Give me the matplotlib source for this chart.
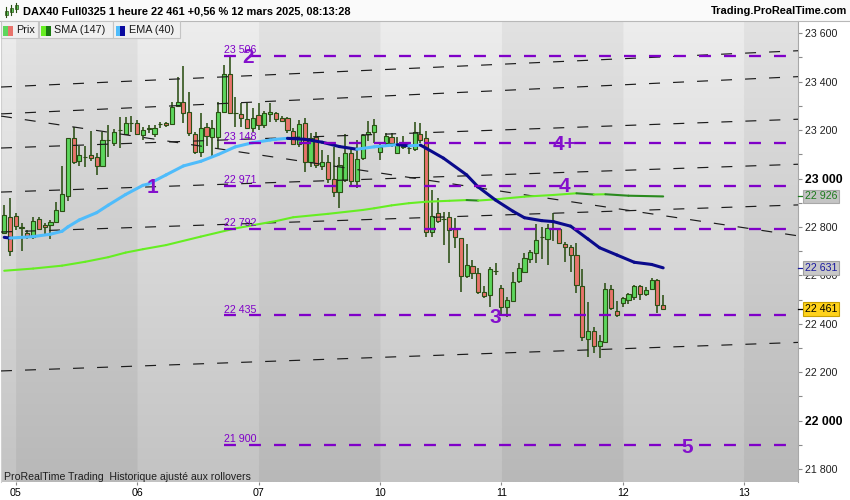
import matplotlib
matplotlib.use('Agg')
import matplotlib.pyplot as plt
import numpy as np
from matplotlib.patches import Rectangle
from matplotlib.collections import LineCollection
from matplotlib.transforms import blended_transform_factory
from matplotlib.lines import Line2D

plt.rcParams['font.family'] = ['Liberation Sans', 'DejaVu Sans']
plt.rcParams['lines.scale_dashes'] = False

# ---------------- data ----------------
day_labels = ['05', '06', '07', '10', '11', '12', '13']
day_start_idx = [0, 21, 42, 63, 84, 105, 126]
first_idx = -2

opens = [22776, 22840,
         22845, 22797, 22776, 22760, 22832, 22810, 22808, 22822, 22867, 22929, 23166, 23074, 23087, 23097, 23090, 23053, 23159, 23148, 23200, 23183, 23228,
         23228, 23180, 23204, 23184, 23224, 23231, 23224, 23300, 23318, 23274, 23184, 23108, 23214, 23173, 23173, 23276, 23431, 23272, 23267, 23245, 23208,
         23262, 23221, 23265, 23270, 23249, 23249, 23198, 23141, 23228, 23070, 23170, 23052, 23067, 22998, 22943, 22994, 23104, 22991, 23083, 23183, 23193,
         23111, 23145, 23173, 23107, 23131, 23125, 23120, 23184, 23166, 22780, 22856, 22832, 22840, 22791, 22753, 22599, 22640, 22611, 22530, 22519, 22618,
         22546, 22471, 22495, 22578, 22615, 22666, 22693, 22757, 22749, 22795, 22792, 22730, 22716, 22684, 22556, 22337, 22370, 22308, 22325, 22542, 22453,
         22487, 22498, 22510, 22556, 22523, 22545, 22581, 22478]
highs = [22891, 22918,
         22856, 22818, 22787, 22842, 22842, 22818, 22829, 22902, 23052, 23166, 23212, 23134, 23134, 23197, 23107, 23194, 23221, 23203, 23256, 23253, 23258,
         23240, 23214, 23222, 23222, 23235, 23235, 23318, 23418, 23465, 23359, 23194, 23270, 23231, 23242, 23318, 23469, 23506, 23336, 23311, 23313, 23290,
         23311, 23280, 23313, 23276, 23260, 23256, 23210, 23242, 23249, 23187, 23194, 23118, 23097, 23129, 23090, 23184, 23121, 23159, 23184, 23238, 23245,
         23145, 23187, 23187, 23170, 23176, 23140, 23235, 23231, 23198, 22953, 22918, 22860, 22860, 22836, 22753, 22730, 22663, 22629, 22556, 22636, 22650,
         22560, 22512, 22615, 22652, 22691, 22705, 22812, 22799, 22812, 22856, 22797, 22739, 22725, 22732, 22625, 22491, 22388, 22354, 22570, 22560, 22494,
         22512, 22525, 22560, 22560, 22550, 22590, 22584, 22519]
lows = [22770, 22681,
        22787, 22702, 22749, 22749, 22787, 22771, 22749, 22818, 22863, 22908, 23060, 23052, 23046, 23074, 23015, 23052, 23090, 23134, 23125, 23183, 23193,
        23180, 23159, 23190, 23170, 23210, 23214, 23221, 23297, 23230, 23176, 23101, 23088, 23134, 23090, 23121, 23269, 23269, 23214, 23214, 23208, 23194,
        23200, 23210, 23235, 23235, 23232, 23187, 23141, 23129, 23028, 23049, 23045, 23035, 22980, 22925, 22877, 22987, 22966, 22960, 23077, 23155, 23145,
        23077, 23134, 23131, 23100, 23120, 23100, 23115, 23145, 22757, 22760, 22815, 22727, 22652, 22714, 22532, 22588, 22584, 22523, 22507, 22468, 22601,
        22432, 22429, 22491, 22570, 22608, 22652, 22652, 22666, 22643, 22743, 22733, 22656, 22615, 22526, 22330, 22264, 22278, 22257, 22325, 22457, 22427,
        22470, 22482, 22500, 22500, 22515, 22540, 22445, 22457]
closes = [22849, 22702,
          22804, 22799, 22762, 22824, 22790, 22800, 22822, 22870, 22936, 23166, 23070, 23097, 23089, 23083, 23052, 23159, 23161, 23192, 23202, 23228, 23230,
          23183, 23201, 23207, 23208, 23226, 23220, 23297, 23318, 23272, 23187, 23108, 23210, 23176, 23208, 23274, 23431, 23272, 23270, 23249, 23210, 23249,
          23221, 23272, 23274, 23245, 23238, 23201, 23141, 23225, 23070, 23166, 23056, 23067, 22997, 22943, 23056, 23104, 22991, 23080, 23180, 23191, 23221,
          23132, 23176, 23145, 23140, 23133, 23127, 23193, 23159, 22780, 22846, 22825, 22834, 22787, 22757, 22599, 22643, 22611, 22532, 22515, 22625, 22620,
          22471, 22498, 22571, 22629, 22671, 22695, 22746, 22759, 22795, 22797, 22733, 22716, 22684, 22560, 22344, 22370, 22308, 22329, 22542, 22464, 22436,
          22505, 22523, 22556, 22523, 22540, 22581, 22478, 22461]

ema_idx = [-2, -1, 3, 6, 8, 9, 11, 14, 16, 19, 22, 23, 26, 29, 32, 35, 38, 41, 44, 45, 47, 50, 53, 56, 59, 62, 66, 68, 70, 71,
           74, 78, 80, 83, 86, 88, 91, 93, 96, 99, 101, 104, 107, 110, 112]
ema_val = [22757, 22754, 22760, 22770, 22782, 22800, 22829, 22859, 22890, 22934, 22972, 22978, 23015, 23052, 23071, 23099, 23131, 23148,
           23159, 23162, 23166, 23162, 23150, 23132, 23121, 23131, 23140, 23135, 23138, 23125,
           23084, 23015, 22965, 22911, 22865, 22838, 22826, 22822, 22803, 22750, 22714, 22684, 22654, 22645, 22631]

sma_idx = [-2, 3, 8, 12, 16, 19, 22, 26, 32, 38, 44, 45, 48, 54, 60, 62, 65, 68, 71, 75, 78, 80, 83, 88, 93, 97, 100, 102, 106, 112]
sma_val = [22619, 22628, 22640, 22656, 22675, 22694, 22708, 22725, 22760, 22794, 22820, 22824, 22840, 22854, 22870, 22877, 22889,
           22898, 22904, 22908, 22911, 22909, 22914, 22925, 22932, 22939, 22934, 22935, 22929, 22926]

level_prices = [23506, 23148, 22971, 22792, 22435, 21900]
level_labels = ['23 506', '23 148', '22 971', '22 792', '22 435', '21 900']
level_start_idx = 36

trend_left = [23378, 23267, 23126, 22944, 22779, 22205, 23258]
trend_right = [23528, 23421, 23245, 23059, 22891, 22323, 22763]

wave_labels = ['1', '2', '3', '4+', '4', '5']
wave_idx = [23.7, 40.1, 82.9, 95.0, 95.0, 116.1]
wave_price = [22973, 23508, 22437, 23148, 22977, 21900]

last_price, sma_last, ema_last = 22461, 22926, 22631
y_ticks = list(range(21800, 23601, 200))
y_minor = list(range(21800, 23601, 100))
xlim = (-2.56, 135.38)
ylim = (21745, 23652)

header = 'DAX40 Full0325 1 heure 22 461 +0,56 % 12 mars 2025, 08:13:28'
site = 'Trading.ProRealTime.com'
footer = 'ProRealTime Trading  Historique ajusté aux rollovers'

# ---------------- colours ----------------
PURPLE = '#7f00c8'
GREEN_FILL = '#5cd65c'
RED_FILL = '#e8736b'
CANDLE_EDGE = '#2b4f14'
EMA_UP, EMA_DN = '#4fbcfb', '#0a0a8c'
SMA_UP, SMA_DN = '#66ee22', '#2a8a1e'

W, H = 850, 500
fig = plt.figure(figsize=(W / 100, H / 100), dpi=100, facecolor='white')
ax = fig.add_axes([1 / W, (H - 482.3) / H, 797.3 / W, 461.6 / H])

# background: vertical gradient with alternate day bands
nx, ny = 900, 200
xs = np.linspace(xlim[0], xlim[1], nx)
band = np.searchsorted(day_start_idx, xs, side='right')
dark = (band % 2 == 1).astype(float)
t = np.linspace(0, 1, ny)[:, None]
val = (237 - 42 * t) - 11 * dark[None, :]
img = np.repeat(val[:, :, None], 3, axis=2) / 255.0
ax.imshow(img, extent=[xlim[0], xlim[1], ylim[0], ylim[1]], aspect='auto',
          origin='upper', zorder=0, interpolation='bilinear')

# candles
idx = np.arange(first_idx, first_idx + len(opens))
bw = 0.72
for i, o, h, l, c in zip(idx, opens, highs, lows, closes):
    ax.plot([i, i], [l, h], color=CANDLE_EDGE, lw=1.15, zorder=2, solid_capstyle='butt')
    lo, hi = min(o, c), max(o, c)
    fc = GREEN_FILL if c >= o else RED_FILL
    ax.add_patch(Rectangle((i - bw / 2, lo), bw, max(hi - lo, 0.5), facecolor=fc,
                           edgecolor=CANDLE_EDGE, lw=0.8, zorder=3))

# black dashed trend lines
for a, b in zip(trend_left, trend_right):
    ax.plot([xlim[0], xlim[1]], [a, b], color='#1c1c1c', lw=0.85, dashes=(7.9, 9.4), zorder=4)

# SMA and EMA with slope-coloured segments
def slope_line(xv, yv, up, dn, lw, z):
    pts = np.column_stack([xv, yv]).astype(float)
    segs = np.stack([pts[:-1], pts[1:]], axis=1)
    cols = [up if yv[k + 1] >= yv[k] else dn for k in range(len(yv) - 1)]
    lc = LineCollection(segs, colors=cols, linewidths=lw, capstyle='round', joinstyle='round', zorder=z)
    ax.add_collection(lc)

slope_line(sma_idx, sma_val, SMA_UP, SMA_DN, 1.5, 5)
slope_line(ema_idx, ema_val, EMA_UP, EMA_DN, 2.2, 6)

# purple levels
for p, lab in zip(level_prices, level_labels):
    ax.plot([level_start_idx, xlim[1]], [p, p], color=PURPLE, lw=1.65, dashes=(8.6, 9.4), zorder=7)
    ax.annotate(lab, (level_start_idx, p), xytext=(0.3, 1.9), textcoords='offset points',
                color=PURPLE, fontsize=7.7, ha='left', va='baseline', zorder=8)

for lab, xi, p in zip(wave_labels, wave_idx, wave_price):
    ax.annotate(lab, (xi, p), xytext=(0, -5.6), textcoords='offset points', color='#8410cc',
                fontsize=15, fontweight='bold', ha='center', va='baseline', zorder=9)

ax.set_xlim(*xlim)
ax.set_ylim(*ylim)

# axes styling
for s in ['top', 'bottom']:
    ax.spines[s].set_visible(False)
ax.spines['left'].set_color('#d0d0d0')
ax.spines['right'].set_color('#a8a8a8')
ax.spines['left'].set_linewidth(0.8)
ax.spines['right'].set_linewidth(0.8)
ax.yaxis.tick_right()
ax.set_yticks(y_ticks)
ax.set_yticks(y_minor, minor=True)
ax.set_yticklabels(['{:,}'.format(v).replace(',', ' ') for v in y_ticks])
ax.tick_params(axis='y', which='both', direction='out', length=3.2, width=0.8, color='#8a8a8a',
               labelsize=7.7, pad=1.9, labelcolor='#202020')
for lab, v in zip(ax.get_yticklabels(), y_ticks):
    if v % 1000 == 0:
        lab.set_fontweight('bold')
        lab.set_fontsize(8.8)
        lab.set_color('black')
ax.set_xticks(day_start_idx)
ax.set_xticklabels(day_labels)
ax.tick_params(axis='x', direction='out', length=2.5, width=0.8, color='#8a8a8a', labelsize=7.7, pad=1.5)

# right-axis value badges
tr = blended_transform_factory(ax.transAxes, ax.transData)
xb = 1 + 6.3 / 797.3
for v, fc, ec, tc, lc in [(sma_last, '#c4c4c4', '#a8a8a8', '#1d7a1d', '#1d7a1d'),
                          (ema_last, '#c8c8c8', '#a0a0a0', '#1a1aa0', '#1a1aa0'),
                          (last_price, '#ffd21a', '#c8a000', 'black', 'black')]:
    ax.plot([1, 1 + 5 / 797.3], [v, v], transform=tr, color=lc, lw=0.9, clip_on=False, zorder=10)
    ax.text(xb, v, '{:,}'.format(v).replace(',', ' '), transform=tr, fontsize=7.7, color=tc,
            ha='left', va='center', clip_on=False, zorder=11,
            bbox=dict(boxstyle='square,pad=0.16', fc=fc, ec=ec, lw=0.8))

# footer watermark
ax.text(2.5 / 797.3, (482.3 - 477) / 461.6, footer, transform=ax.transAxes, fontsize=7.6,
        color='#1e1e1e', ha='left', va='center', zorder=12)

# ---------------- header & legend (figure pixel layout) ----------------
def fx(x):
    return x / W

def fy(y):
    return 1 - y / H

fig.add_artist(Rectangle((0, fy(20.7)), 1, 20.7 / H, transform=fig.transFigure,
                         facecolor='#fafafa', edgecolor='none', zorder=0))
fig.add_artist(Line2D([0, 1], [fy(20.7), fy(20.7)], transform=fig.transFigure, color='#b8b8b8', lw=0.8))
fig.text(fx(23), fy(11), header, fontsize=7.9, fontweight='bold', ha='left', va='center')
fig.text(fx(847), fy(11), site, fontsize=7.9, fontweight='bold', ha='right', va='center')
# small candle icon
for cx, y0, y1, b0, b1 in [(6, 7, 17, 11, 15), (11, 5, 15, 8, 12), (16, 3, 12, 5, 9)]:
    fig.add_artist(Line2D([fx(cx), fx(cx)], [fy(y1), fy(y0)], transform=fig.transFigure,
                          color=CANDLE_EDGE, lw=0.8))
    fig.add_artist(Rectangle((fx(cx - 1.5), fy(b1)), 3 / W, (b1 - b0) / H, transform=fig.transFigure,
                             facecolor=GREEN_FILL, edgecolor=CANDLE_EDGE, lw=0.5))

legend_items = [('Prix', GREEN_FILL, RED_FILL, 0, 37),
                ('SMA (147)', SMA_UP, '#1a7a12', 38, 112),
                ('EMA (40)', EMA_UP, '#0a0aa0', 113, 179)]
for text, c1, c2, x0, x1 in legend_items:
    fig.add_artist(Rectangle((fx(x0 + 0.5), fy(38.3)), (x1 - x0) / W, 17.3 / H, transform=fig.transFigure,
                             facecolor='#f0f0f0', edgecolor='#c4c4c4', lw=0.8, zorder=20))
    fig.add_artist(Rectangle((fx(x0 + 2.5), fy(36)), 5 / W, 10 / H, transform=fig.transFigure,
                             facecolor=c1, edgecolor='none', zorder=21))
    fig.add_artist(Rectangle((fx(x0 + 7.5), fy(36)), 5 / W, 10 / H, transform=fig.transFigure,
                             facecolor=c2, edgecolor='none', zorder=21))
    fig.text(fx(x0 + 16), fy(30.2), text, fontsize=7.8, ha='left', va='center', color='#1a1a1a', zorder=22)

fig.savefig('out.png', dpi=100, facecolor='white')
